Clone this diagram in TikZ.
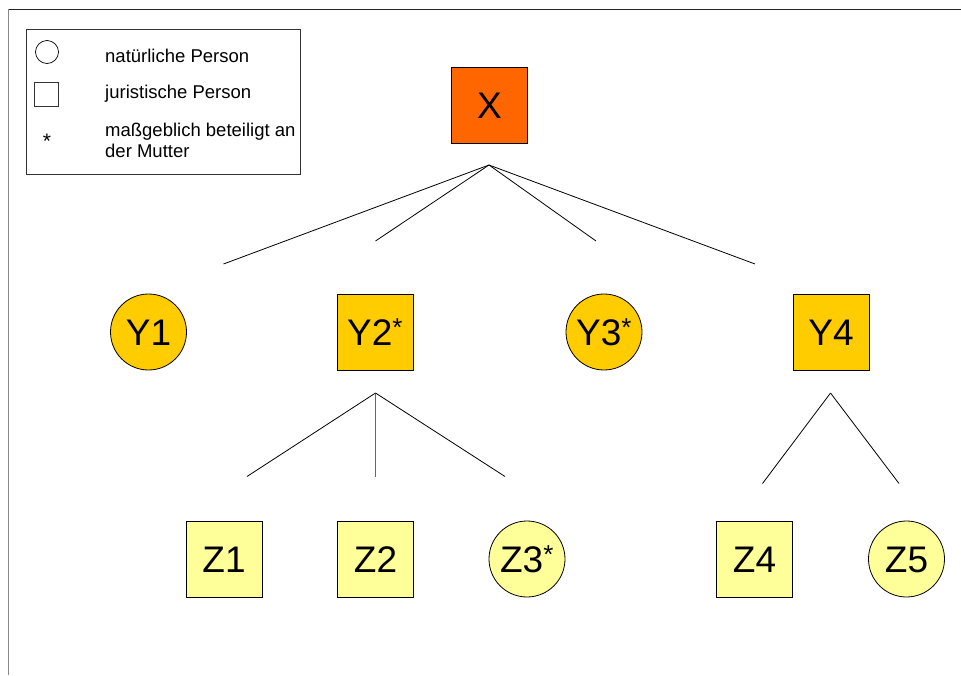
\documentclass[tikz,border=0pt]{standalone}
\usepackage{fontspec}
\setmainfont{Liberation Sans}
\definecolor{orX}{HTML}{FF6600}
\definecolor{yelY}{HTML}{FFCC00}
\definecolor{yelZ}{HTML}{FFFF99}
\definecolor{frameg}{HTML}{888888}
\begin{document}
\begin{tikzpicture}[x=1pt,y=-1pt,
  base/.style={draw=black,line width=0.8pt,inner sep=0pt,minimum size=76pt,
    font=\fontsize{37}{37}\selectfont,text height=26.5pt,text depth=0pt},
  sq/.style={base,rectangle},
  ci/.style={base,circle},
  conn/.style={line width=0.8pt,black},
  legtxt/.style={anchor=base west,font=\fontsize{18.5}{21}\selectfont,inner sep=0pt}]
\useasboundingbox (0,0) rectangle (961,675);
% page frame
\draw[line width=1pt,black!85] (8,9) -- (961,9);
\draw[line width=1pt,frameg] (8,9) -- (8,675);
% legend
\node[draw=black!80,line width=0.8pt,minimum width=274pt,minimum height=145pt,anchor=north west,inner sep=0pt] (leg) at (26,29) {};
\node[draw=black,line width=0.7pt,circle,minimum size=23pt,inner sep=0pt] (legc) at (47,52) {};
\node[draw=black!80,line width=0.7pt,rectangle,minimum size=24pt,inner sep=0pt] (legs) at (46,94) {};
\node[anchor=base,font=\fontsize{21}{21}\selectfont,inner sep=0pt] (legst) at (47,148) {*};
\node[legtxt] (t1) at (105,62) {natürliche Person};
\node[legtxt] (t2) at (105,98.5) {juristische Person};
\node[legtxt] (t3) at (105,136) {maßgeblich beteiligt an};
\node[legtxt] (t4) at (105,157.5) {der Mutter};
% nodes
\node[sq,fill=orX] (X) at (489.5,105) {X};
\node[ci,fill=yelY] (Y1) at (148.5,332) {Y1};
\node[sq,fill=yelY] (Y2) at (375,332) {Y2\textsuperscript{*}};
\node[ci,fill=yelY] (Y3) at (604,332) {Y3\textsuperscript{*}};
\node[sq,fill=yelY] (Y4) at (831,332) {Y4};
\node[sq,fill=yelZ] (Z1) at (224,559) {Z1};
\node[sq,fill=yelZ] (Z2) at (375.5,559) {Z2};
\node[ci,fill=yelZ] (Z3) at (527,559) {Z3\textsuperscript{*}};
\node[sq,fill=yelZ] (Z4) at (754.5,559) {Z4};
\node[ci,fill=yelZ] (Z5) at (906.5,559) {Z5};
% connector coordinates
\coordinate (ax) at (489,165);
\coordinate (e1) at (223.5,264);
\coordinate (e2) at (375.5,241);
\coordinate (e3) at (596,241);
\coordinate (e4) at (755,264);
\coordinate (ay2) at (375.5,393);
\coordinate (f1) at (247,476.5);
\coordinate (f2) at (375.5,476.5);
\coordinate (f3) at (505,476.5);
\coordinate (ay4) at (830.5,393);
\coordinate (g1) at (762.5,483.5);
\coordinate (g2) at (899,483.5);
\draw[conn] (ax) -- (e1);
\draw[conn] (ax) -- (e2);
\draw[conn] (ax) -- (e3);
\draw[conn] (ax) -- (e4);
\draw[conn] (ay2) -- (f1);
\draw[conn,black!60] (ay2) -- (f2);
\draw[conn] (ay2) -- (f3);
\draw[conn] (ay4) -- (g1);
\draw[conn] (ay4) -- (g2);
\end{tikzpicture}
\end{document}
